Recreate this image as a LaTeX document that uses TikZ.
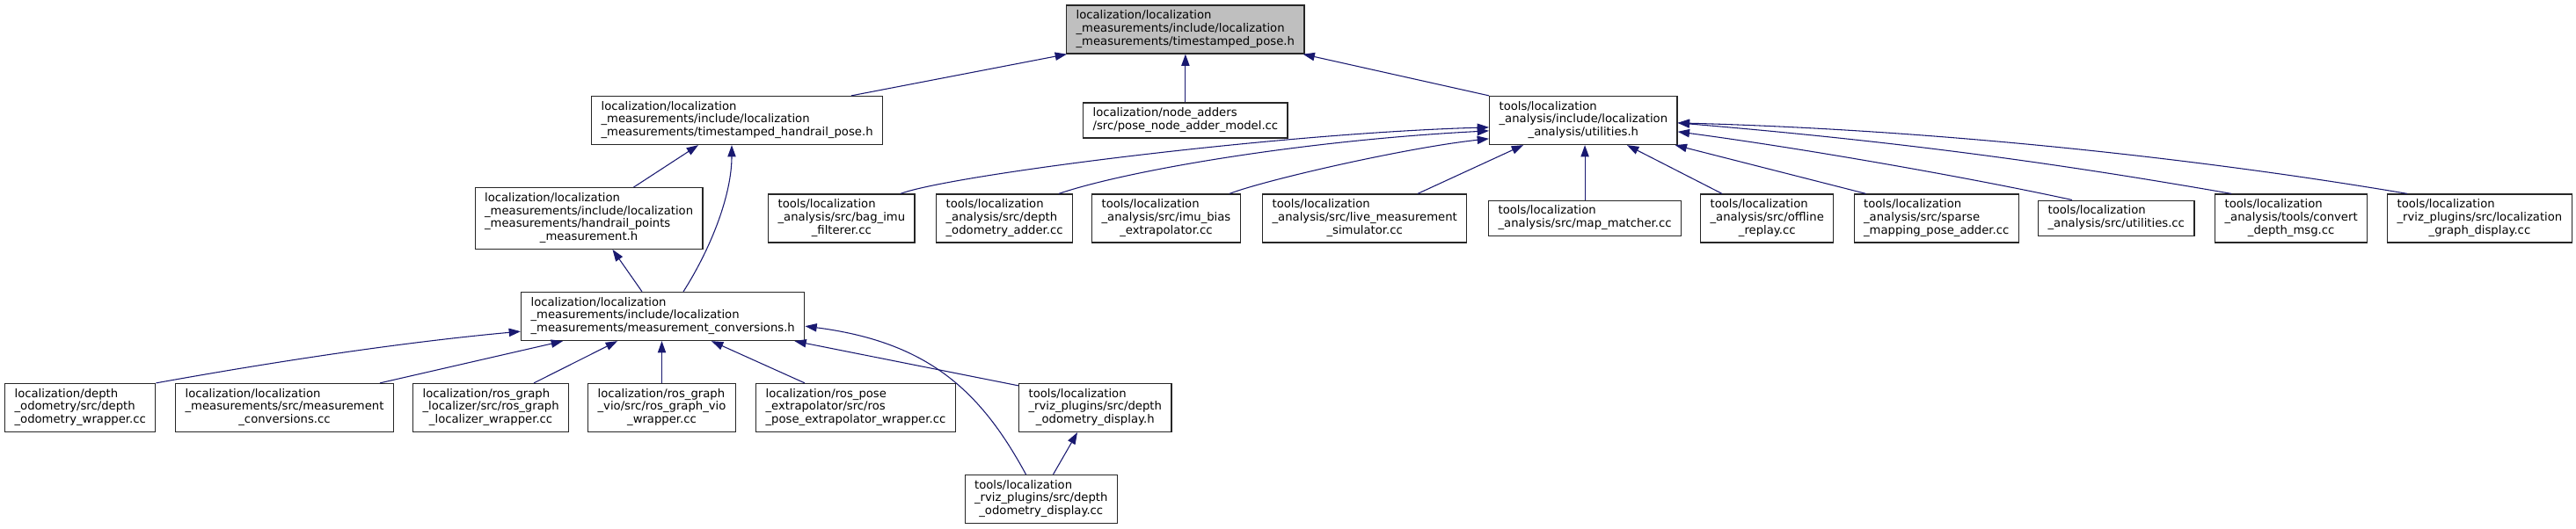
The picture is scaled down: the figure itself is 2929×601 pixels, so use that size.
\documentclass[tikz,border=0pt]{standalone}
\usepackage{fontspec}
\setmainfont{DejaVu Sans}
\usepackage{xcolor}
\usetikzlibrary{arrows.meta,calc}

\definecolor{edgeblue}{RGB}{25,25,112}
\newcommand{\filelabel}[2]{\begin{tabular}{@{}l@{}}#1\\\multicolumn{1}{@{}c@{}}{#2}\end{tabular}}

\begin{document}
\begin{tikzpicture}[
    x=0.75pt, y=-0.75pt,
    file/.style={draw=black!85, line width=1pt, fill=white, anchor=west, inner xsep=8.2pt, inner ysep=4.1pt, font=\fontsize{9.9}{11}\selectfont},
    current/.style={file, fill=black!25},
    dep/.style={draw=edgeblue, line width=0.8pt, -{Triangle[length=10pt,width=7pt]}}
]
\useasboundingbox (0,0) rectangle (2929,601);

% Header file
\node[current] (pose) at (1212,33.5) {\filelabel{localization/localization\\\_measurements/include/localization}{\_measurements/timestamped\_pose.h}};

% Second level
\node[file] (hrpose) at (672,137) {\filelabel{localization/localization\\\_measurements/include/localization}{\_measurements/timestamped\_handrail\_pose.h}};
\node[file] (nodeadder) at (1231,137) {\filelabel{localization/node\_adders}{/src/pose\_node\_adder\_model.cc}};
\node[file] (utils) at (1693,137) {\filelabel{tools/localization\\\_analysis/include/localization}{\_analysis/utilities.h}};

% Handrail points and analysis tools
\node[file] (hrpoints) at (539.5,248.5) {\filelabel{localization/localization\\\_measurements/include/localization\\\_measurements/handrail\_points}{\_measurement.h}};
\node[file] (bagimu) at (873,248.5) {\filelabel{tools/localization\\\_analysis/src/bag\_imu}{\_filterer.cc}};
\node[file] (depthadder) at (1064,248.5) {\filelabel{tools/localization\\\_analysis/src/depth}{\_odometry\_adder.cc}};
\node[file] (imubias) at (1241,248.5) {\filelabel{tools/localization\\\_analysis/src/imu\_bias}{\_extrapolator.cc}};
\node[file] (livemeas) at (1435,248.5) {\filelabel{tools/localization\\\_analysis/src/live\_measurement}{\_simulator.cc}};
\node[file] (mapmatch) at (1692,248.3) {\filelabel{tools/localization}{\_analysis/src/map\_matcher.cc}};
\node[file] (offline) at (1933,248.5) {\filelabel{tools/localization\\\_analysis/src/offline}{\_replay.cc}};
\node[file] (sparse) at (2107.5,248.5) {\filelabel{tools/localization\\\_analysis/src/sparse}{\_mapping\_pose\_adder.cc}};
\node[file] (utilcc) at (2317,248.3) {\filelabel{tools/localization}{\_analysis/src/utilities.cc}};
\node[file] (convert) at (2518,248.5) {\filelabel{tools/localization\\\_analysis/tools/convert}{\_depth\_msg.cc}};
\node[file] (graphdisp) at (2714,248.5) {\filelabel{tools/localization\\\_rviz\_plugins/src/localization}{\_graph\_display.cc}};

% Measurement conversions
\node[file] (mconv) at (592,360) {\filelabel{localization/localization\\\_measurements/include/localization}{\_measurements/measurement\_conversions.h}};

% Bottom rows
\node[file] (depthwrap) at (5,464) {\filelabel{localization/depth\\\_odometry/src/depth}{\_odometry\_wrapper.cc}};
\node[file] (mconvcc) at (199,464) {\filelabel{localization/localization\\\_measurements/src/measurement}{\_conversions.cc}};
\node[file] (graphloc) at (469,464) {\filelabel{localization/ros\_graph\\\_localizer/src/ros\_graph}{\_localizer\_wrapper.cc}};
\node[file] (graphvio) at (668,464) {\filelabel{localization/ros\_graph\\\_vio/src/ros\_graph\_vio}{\_wrapper.cc}};
\node[file] (poseextra) at (859,464) {\filelabel{localization/ros\_pose\\\_extrapolator/src/ros}{\_pose\_extrapolator\_wrapper.cc}};
\node[file] (dispheader) at (1158,464) {\filelabel{tools/localization\\\_rviz\_plugins/src/depth}{\_odometry\_display.h}};
\node[file] (dispsource) at (1096.5,568) {\filelabel{tools/localization\\\_rviz\_plugins/src/depth}{\_odometry\_display.cc}};

% Connections to timestamped_pose.h
\draw[dep] ($(hrpose.north west)+(296,0)$) -- ($(pose.south west)+(1,0)$);
\draw[dep] (nodeadder.north) -- (nodeadder.north |- pose.south);
\draw[dep] (utils.north west) -- ($(pose.south east)+(-2,0)$);

% Handrail chain
\draw[dep] ($(hrpoints.north west)+(181,0)$) -- ($(hrpose.south west)+(122,0)$);
\draw[dep] ($(mconv.north west)+(138,0)$) -- ($(hrpoints.south west)+(157,0)$);
\draw[dep] ($(mconv.north west)+(185,0)$) .. controls +(33,-52) and +(0,55) .. ($(hrpose.south west)+(160,0)$);

% Users of measurement_conversions.h
\draw[dep] (depthwrap.north east) .. controls +(155,-28) and +(-120,11) .. ($(mconv.south west)+(0,-11)$);
\draw[dep] ($(mconvcc.north west)+(233,0)$) -- ($(mconv.south west)+(48,0)$);
\draw[dep] ($(graphloc.north west)+(138,0)$) -- ($(mconv.south west)+(110,0)$);
\draw[dep] (graphvio.north) -- (graphvio.north |- mconv.south);
\draw[dep] ($(poseextra.north west)+(56,0)$) -- ($(mconv.south west)+(217,0)$);
\draw[dep] ($(dispheader.north west)+(0,3)$) -- ($(mconv.south east)+(-12,0)$);
\draw[dep] ($(dispsource.north west)+(70,0)$) .. controls +(-52,-96) and +(139,18) .. ($(mconv.south east)+(0,-17)$);
\draw[dep] ($(dispsource.north west)+(101,0)$) -- ($(dispheader.south west)+(67,0)$);

% Users of utilities.h
\draw[dep] ($(bagimu.north west)+(151,0)$) .. controls +(56,-21) and +(-243,7) .. ($(utils.north west)+(0,36)$);
\draw[dep] ($(depthadder.north west)+(140,0)$) .. controls +(76,-26) and +(-213,11) .. ($(utils.north west)+(0,40)$);
\draw[dep] ($(imubias.north west)+(157,0)$) .. controls +(42,-16) and +(-93,10) .. ($(utils.north west)+(0,49)$);
\draw[dep] ($(livemeas.north west)+(177,0)$) -- ($(utils.south west)+(39,0)$);
\draw[dep] (mapmatch.north) -- (mapmatch.north |- utils.south);
\draw[dep] ($(offline.north west)+(25,0)$) -- ($(utils.south west)+(157,0)$);
\draw[dep] ($(sparse.north west)+(14,0)$) -- ($(utils.south east)+(-3,0)$);
\draw[dep] ($(utilcc.north west)+(39,0)$) .. controls +(-110,-24) and +(150,20) .. ($(utils.north east)+(0,41)$);
\draw[dep] ($(convert.north west)+(19,0)$) .. controls +(-200,-35) and +(250,21) .. ($(utils.north east)+(0,31)$);
\draw[dep] ($(graphdisp.north west)+(23,0)$) .. controls +(-230,-39) and +(300,8) .. ($(utils.north east)+(0,31)$);

\end{tikzpicture}
\end{document}
